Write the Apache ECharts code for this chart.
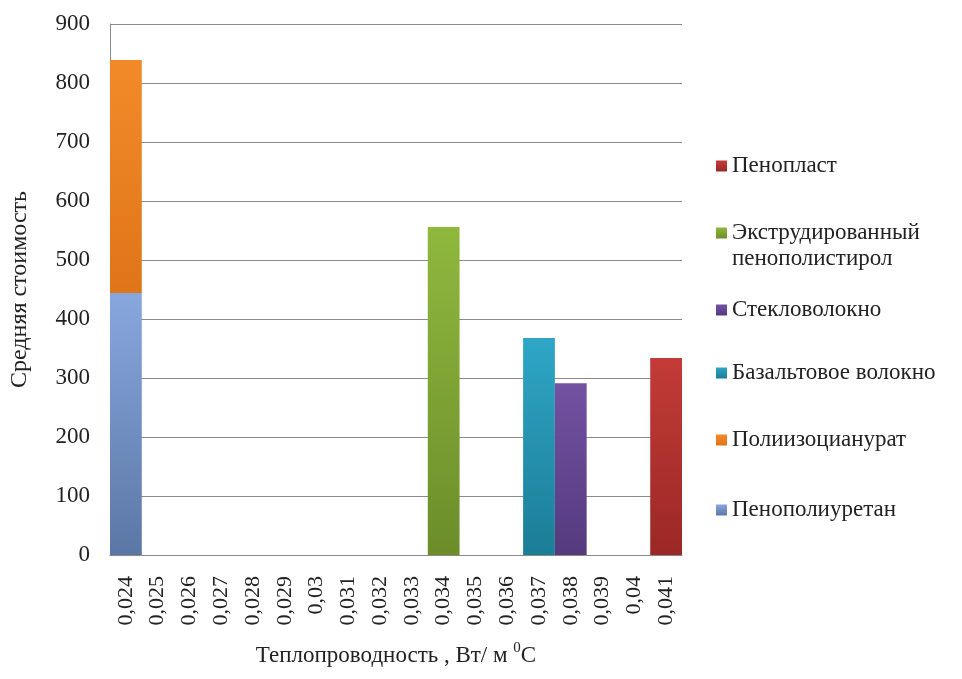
<!DOCTYPE html>
<html>
<head>
<meta charset="utf-8">
<script src="https://cdn.jsdelivr.net/npm/echarts@6/dist/echarts.min.js"></script>
<style>
  html, body { margin: 0; padding: 0; background: #fff; }
  #chart { width: 962px; height: 679px; }
</style>
</head>
<body>
<div id="chart"></div>
<script>
// категории по оси X (теплопроводность)
var categories = ["0,024", "0,025", "0,026", "0,027", "0,028", "0,029", "0,03", "0,031", "0,032",
    "0,033", "0,034", "0,035", "0,036", "0,037", "0,038", "0,039", "0,04", "0,041"];
var yTicks = [0, 100, 200, 300, 400, 500, 600, 700, 800, 900];

// средняя стоимость по материалам
var penopoliuretan = [444, null, null, null, null, null, null, null, null, null, null, null, null, null, null, null, null, null];
var poliizocianurat = [395, null, null, null, null, null, null, null, null, null, null, null, null, null, null, null, null, null];
var ekstrud = [null, null, null, null, null, null, null, null, null, null, 556, null, null, null, null, null, null, null];
var bazalt = [null, null, null, null, null, null, null, null, null, null, null, null, null, 368, null, null, null, null];
var steklo = [null, null, null, null, null, null, null, null, null, null, null, null, null, null, 291, null, null, null];
var penoplast = [null, null, null, null, null, null, null, null, null, null, null, null, null, null, null, null, null, 334];

var serif = "'Liberation Serif', 'DejaVu Serif', serif";

function grad(top, bottom) {
    return new echarts.graphic.LinearGradient(0, 0, 0, 1, [
        { offset: 0, color: top },
        { offset: 1, color: bottom }
    ]);
}

function bar(name, data, c1, c2) {
    return {
        name: name,
        type: 'bar',
        stack: 'total',
        data: data,
        barCategoryGap: '0%',
        itemStyle: { color: grad(c1, c2) }
    };
}

function legendItem(name, top, fmt) {
    var l = {
        data: [name],
        left: 711,
        top: top,
        itemWidth: 11,
        itemHeight: 11,
        icon: 'rect',
        textStyle: { fontFamily: serif, fontSize: 23, color: '#222', lineHeight: 26 }
    };
    if (fmt) l.formatter = fmt;
    return l;
}

var chart = echarts.init(document.getElementById('chart'));
window.addEventListener('resize', chart.resize);

var option = {
    animation: false,
    grid: { left: 110, right: 280, top: 24, bottom: 124 },
    legend: [
        legendItem('Пенопласт', 148),
        // пустая первая строка, чтобы маркер стоял напротив первой строки подписи
        legendItem('Экструдированный пенополистирол', 189, function () {
            return ' \nЭкструдированный\nпенополистирол';
        }),
        legendItem('Стекловолокно', 292),
        legendItem('Базальтовое волокно', 355),
        legendItem('Полиизоцианурат', 422),
        legendItem('Пенополиуретан', 492)
    ],
    xAxis: {
        type: 'category',
        data: categories,
        name: '{a|Теплопроводность , Вт/ м }{s|0}{a|C}',
        nameLocation: 'middle',
        nameGap: 86,
        nameTextStyle: {
            rich: {
                a: { fontFamily: serif, fontSize: 23, color: '#222', verticalAlign: 'bottom', lineHeight: 26 },
                s: { fontFamily: serif, fontSize: 15, color: '#222', verticalAlign: 'top', lineHeight: 26, padding: [0, 0, 11, 0] }
            }
        },
        axisLine: { lineStyle: { color: '#8a8a8a' } },
        axisTick: { show: false },
        axisLabel: {
            rotate: 90,
            interval: 0,
            margin: 21,
            fontFamily: serif,
            fontSize: 22,
            color: '#222'
        }
    },
    yAxis: {
        type: 'value',
        min: yTicks[0],
        max: yTicks[yTicks.length - 1],
        interval: 100,
        name: 'Средняя стоимость',
        nameLocation: 'middle',
        nameGap: 78,
        nameTextStyle: { fontFamily: serif, fontSize: 24, color: '#222' },
        axisLine: { show: true, lineStyle: { color: '#8a8a8a' } },
        axisTick: { show: false },
        axisLabel: { margin: 20, fontFamily: serif, fontSize: 23, color: '#222' },
        splitLine: { lineStyle: { color: '#8a8a8a', width: 1 } }
    },
    series: [
        bar('Пенополиуретан', penopoliuretan, '#88a7dd', '#5b77a6'),
        bar('Полиизоцианурат', poliizocianurat, '#f28a2a', '#df7518'),
        bar('Экструдированный пенополистирол', ekstrud, '#8fb83e', '#6c8d2a'),
        bar('Базальтовое волокно', bazalt, '#2fa6c6', '#1c7d97'),
        bar('Стекловолокно', steklo, '#7352a2', '#553a7e'),
        bar('Пенопласт', penoplast, '#c23b37', '#9b2826')
    ]
};
chart.setOption(option);
</script>
</body>
</html>
